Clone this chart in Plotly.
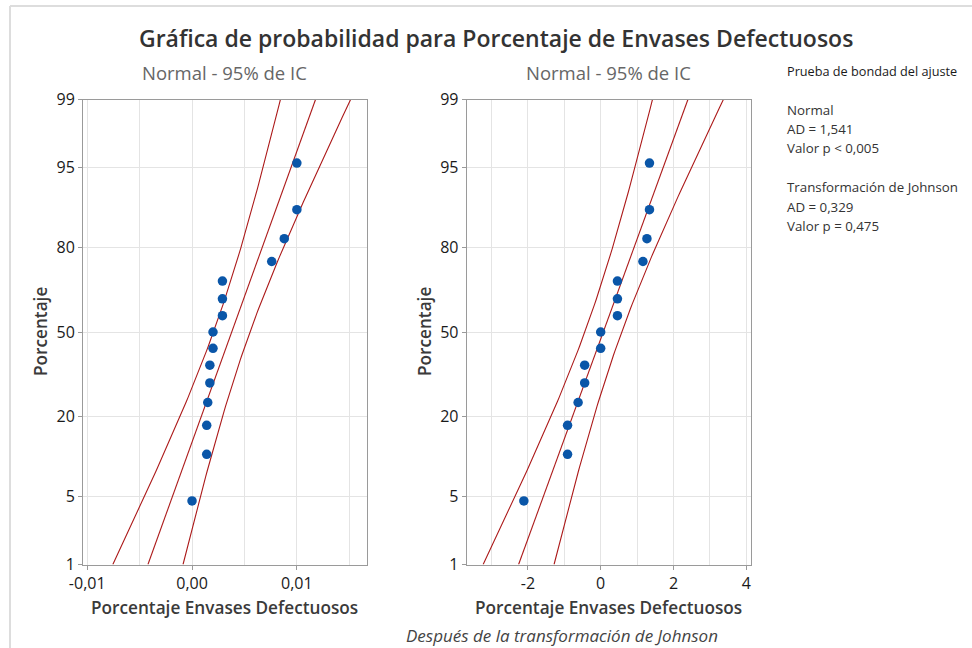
import math
from statistics import NormalDist
import plotly.graph_objects as go

# ---- data ----
pct_defect = [0.0000, 0.0014, 0.0014, 0.0015, 0.0017, 0.0017, 0.0020, 0.0020,
              0.0029, 0.0029, 0.0029, 0.0076, 0.0088, 0.0100, 0.0100]
johnson_values = [-2.11, -0.91, -0.91, -0.62, -0.44, -0.44, 0.00, 0.00,
                  0.46, 0.46, 0.46, 1.16, 1.27, 1.34, 1.34]

prob_ticks = [1, 5, 20, 50, 80, 95, 99]
prob_tick_labels = ["1", "5", "20", "50", "80", "95", "99"]
left_x_ticks = [-0.01, 0.0, 0.01]
left_x_labels = ["-0,01", "0,00", "0,01"]
right_x_ticks = [-2, 0, 2, 4]
right_x_labels = ["-2", "0", "2", "4"]

title_text = "Gráfica de probabilidad para Porcentaje de Envases Defectuosos"
subtitle_text = "Normal - 95% de IC"
xlabel_text = "Porcentaje Envases Defectuosos"
ylabel_text = "Porcentaje"
footer_text = "Después de la transformación de Johnson"
gof_lines = ["Prueba de bondad del ajuste", "", "Normal", "AD = 1,541",
             "Valor p < 0,005", "", "Transformación de Johnson",
             "AD = 0,329", "Valor p = 0,475"]

nd = NormalDist()
Z_LO, Z_HI = nd.inv_cdf(0.01), nd.inv_cdf(0.99)


def plot_positions(n):
    return [nd.inv_cdf((i - 0.3) / (n + 0.4)) for i in range(1, n + 1)]


def fit_and_ci(vals):
    n = len(vals)
    m = sum(vals) / n
    sd = math.sqrt(sum((v - m) ** 2 for v in vals) / (n - 1))
    zs = [Z_LO + (Z_HI - Z_LO) * k / 100 for k in range(101)]
    fit = [m + z * sd for z in zs]
    se = [sd * math.sqrt((1 + z * z / 2) / n) for z in zs]
    lo = [f - 1.96 * s for f, s in zip(fit, se)]
    hi = [f + 1.96 * s for f, s in zip(fit, se)]
    return zs, fit, lo, hi


BLUE = "#0A56A8"
RED = "#AC1A1A"
fig = go.Figure()

for vals, xa, ya in [(pct_defect, "x", "y"), (johnson_values, "x2", "y2")]:
    zs, fit, lo, hi = fit_and_ci(vals)
    for line in (lo, fit, hi):
        fig.add_trace(go.Scatter(x=line, y=zs, mode="lines", xaxis=xa, yaxis=ya,
                                 line=dict(color=RED, width=1.1), showlegend=False,
                                 hoverinfo="skip"))
    fig.add_trace(go.Scatter(x=sorted(vals), y=plot_positions(len(vals)), mode="markers",
                             xaxis=xa, yaxis=ya, showlegend=False,
                             marker=dict(color=BLUE, size=9.5, line=dict(width=0))))

W, H = 972, 648
FONT = "Open Sans"
yd = [1 - 564.5 / H, 1 - 99.5 / H]
dom_left = [83 / W, 367 / W]
dom_right = [466.7 / W, 750.7 / W]
zticks = [nd.inv_cdf(p / 100) for p in prob_ticks]

axis_common = dict(showline=True, mirror=True, linecolor="#9a9a9a", linewidth=1,
                   ticks="outside", ticklen=4, tickcolor="#9a9a9a", automargin=False,
                   showgrid=True, gridcolor="#e4e4e4", gridwidth=1, zeroline=False,
                   tickfont=dict(family=FONT, size=16, color="#1a1a1a"))

fig.update_layout(
    template="none",
    width=W, height=H, margin=dict(l=0, r=0, t=0, b=0, pad=0), autosize=False,
    paper_bgcolor="white", plot_bgcolor="white", showlegend=False,
    xaxis=dict(domain=dom_left, range=[-0.0104, 0.01669], tickmode="array",
               tickvals=left_x_ticks, ticktext=left_x_labels,
               minor=dict(dtick=0.005, tick0=0, showgrid=True, gridcolor="#e4e4e4", ticks=""),
               anchor="y", **axis_common),
    yaxis=dict(domain=yd, range=[Z_LO, Z_HI], tickmode="array", tickvals=zticks,
               ticktext=prob_tick_labels, anchor="x", **axis_common),
    xaxis2=dict(domain=dom_right, range=[-3.68, 4.12], tickmode="array",
                tickvals=right_x_ticks, ticktext=right_x_labels,
                minor=dict(dtick=1, tick0=0, showgrid=True, gridcolor="#e4e4e4", ticks=""),
                anchor="y2", **axis_common),
    yaxis2=dict(domain=yd, range=[Z_LO, Z_HI], tickmode="array", tickvals=zticks,
                ticktext=prob_tick_labels, anchor="x2", **axis_common),
)

ann = []
ann.append(dict(text=title_text, x=496 / W, y=1 - 38 / H, xref="paper", yref="paper",
                showarrow=False, xanchor="center", yanchor="middle",
                font=dict(family=FONT, size=23, color="#333333", weight=600)))
for cx in [(dom_left[0] + dom_left[1]) / 2, (dom_right[0] + dom_right[1]) / 2]:
    ann.append(dict(text=subtitle_text, x=cx, y=1 - 72 / H, xref="paper", yref="paper",
                    showarrow=False, xanchor="center", yanchor="middle",
                    font=dict(family=FONT, size=18.5, color="#666666")))
    ann.append(dict(text=xlabel_text, x=cx, y=1 - 607 / H, xref="paper", yref="paper",
                    showarrow=False, xanchor="center", yanchor="middle",
                    font=dict(family=FONT, size=17.2, color="#3a3a3a", weight=600)))
for lx in [40, 424]:
    ann.append(dict(text=ylabel_text, x=lx / W, y=1 - 332 / H, xref="paper", yref="paper",
                    showarrow=False, xanchor="center", yanchor="middle", textangle=-90,
                    font=dict(family=FONT, size=17.2, color="#3a3a3a", weight=600)))
ann.append(dict(text="<i>" + footer_text + "</i>", x=562 / W, y=1 - 635 / H,
                xref="paper", yref="paper", showarrow=False, xanchor="center",
                yanchor="middle", font=dict(family=FONT, size=17, color="#444444")))
gof_y = [71, None, 110, 129, 148, None, 187, 207, 226]
for txt, yy in zip(gof_lines, gof_y):
    if not txt:
        continue
    ann.append(dict(text=txt, x=785 / W, y=1 - yy / H, xref="paper", yref="paper",
                    showarrow=False, xanchor="left", yanchor="middle",
                    font=dict(family=FONT, size=12.7 if yy == 71 else 13.3,
                              color="#1a1a1a" if yy == 71 else "#333333")))
fig.update_layout(annotations=ann)

fig.add_shape(type="line", xref="paper", yref="paper", x0=10 / W, x1=1, y0=1 - 6 / H,
              y1=1 - 6 / H, line=dict(color="#dddddd", width=2))
fig.add_shape(type="line", xref="paper", yref="paper", x0=10 / W, x1=10 / W, y0=0,
              y1=1 - 6 / H, line=dict(color="#dddddd", width=2))

fig.write_html("out.html", config={"displayModeBar": False},
               post_script="document.body.style.margin='0';document.body.style.overflow='hidden';")
